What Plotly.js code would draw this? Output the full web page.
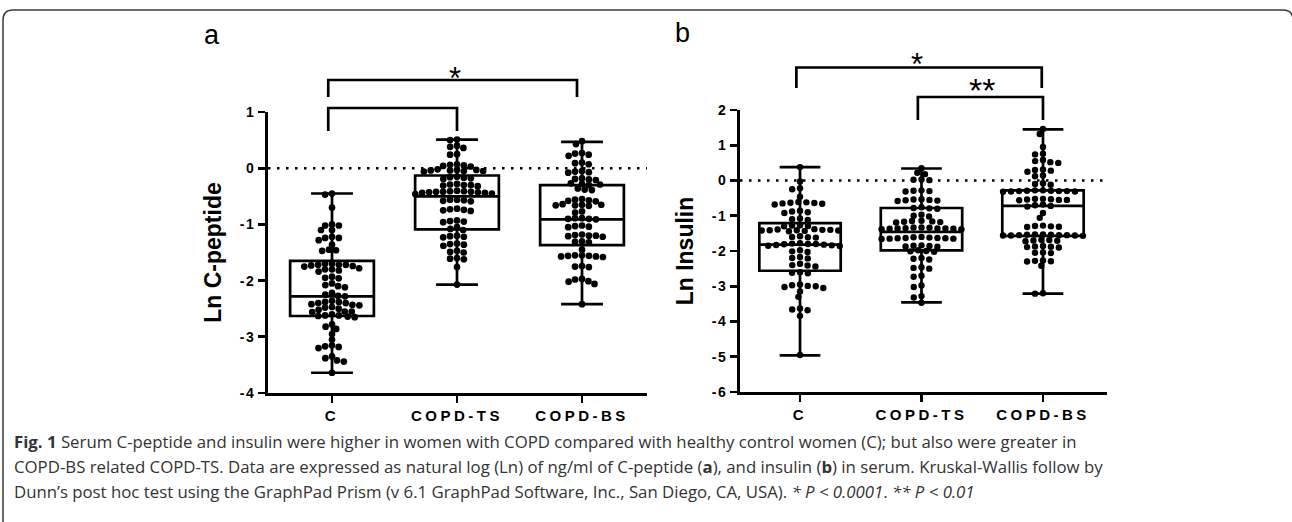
<!DOCTYPE html>
<html>
<head>
<meta charset="utf-8">
<script src="https://cdn.plot.ly/plotly-3.0.1.min.js"></script>
<style>
  html, body { margin: 0; padding: 0; background: #fff; }
  #chart { width: 1292px; height: 522px; }
  .xtick text, .x2tick text { letter-spacing: 3.5px; }
  .ytick text, .y2tick text { letter-spacing: 1.5px; }
</style>
</head>
<body>
<div id="chart"></div>
<script>
// ---------------- data ----------------
const categories = ['C', 'COPD-TS', 'COPD-BS'];

// Panel a: Ln C-peptide, individual values
const cpeptideC = [-0.45, -0.47, -0.70, -1.00, -1.02, -1.02, -1.10, -1.10, -1.22, -1.24, -1.24, -1.28, -1.36,
  -1.45, -1.46, -1.47, -1.70, -1.72, -1.72, -1.74, -1.70, -1.73, -1.75, -1.78, -1.72, -1.80, -1.82, -1.80,
  -1.84, -1.93, -1.96, -1.95, -2.05, -2.10, -2.08, -2.12, -2.22, -2.25, -2.27, -2.28, -2.38, -2.40, -2.40,
  -2.42, -2.38, -2.36, -2.44, -2.47, -2.48, -2.43, -2.52, -2.55, -2.55, -2.50, -2.56, -2.62, -2.63, -2.64,
  -2.62, -2.60, -2.65, -2.78, -2.82, -2.86, -2.95, -3.05, -3.15, -3.18, -3.20, -3.17, -3.35, -3.38, -3.42,
  -3.44, -3.64];
const cpeptideTS = [0.51, 0.50, 0.40, 0.36, 0.38, 0.25, 0.24, 0.07, 0.05, 0.06, 0.03, 0.04, -0.02, -0.04,
  -0.05, -0.03, -0.06, -0.04, -0.05, -0.03, -0.15, -0.17, -0.18, -0.16, -0.19, -0.29, -0.30, -0.31, -0.28,
  -0.32, -0.30, -0.40, -0.41, -0.42, -0.42, -0.43, -0.44, -0.41, -0.43, -0.45, -0.42, -0.44, -0.46, -0.56,
  -0.57, -0.58, -0.56, -0.59, -0.72, -0.74, -0.75, -0.73, -0.76, -0.93, -0.95, -0.96, -0.94, -1.05, -1.08,
  -1.10, -1.20, -1.22, -1.21, -1.23, -1.34, -1.36, -1.38, -1.35, -1.47, -1.49, -1.50, -1.60, -1.62, -1.61,
  -1.76, -2.07];
const cpeptideBS = [0.48, 0.43, 0.26, 0.24, 0.22, 0.27, 0.09, 0.07, 0.10, -0.06, -0.08, -0.07, -0.05, -0.19,
  -0.20, -0.21, -0.18, -0.27, -0.28, -0.30, -0.29, -0.38, -0.39, -0.36, -0.56, -0.58, -0.59, -0.57, -0.55,
  -0.65, -0.66, -0.64, -0.67, -0.66, -0.65, -0.77, -0.79, -0.89, -0.91, -0.90, -0.89, -0.90, -1.03, -1.04,
  -1.05, -1.02, -1.19, -1.20, -1.21, -1.18, -1.22, -1.20, -1.30, -1.32, -1.31, -1.45, -1.55, -1.56, -1.57,
  -1.56, -1.58, -1.57, -1.55, -1.74, -1.75, -1.76, -1.98, -2.02, -2.06, -2.01, -1.97, -2.42];

// Panel a: box statistics (C, COPD-TS, COPD-BS)
const cpeptideQ1 = [-2.63, -1.09, -1.37];
const cpeptideMedian = [-2.28, -0.50, -0.91];
const cpeptideQ3 = [-1.65, -0.13, -0.30];
const cpeptideMin = [-3.64, -2.07, -2.42];
const cpeptideMax = [-0.45, 0.51, 0.47];

// Panel b: Ln Insulin, individual values
const insulinC = [0.38, -0.03, -0.22, -0.25, -0.46, -0.62, -0.64, -0.66, -0.68, -0.65, -0.63, -0.61, -0.86,
  -0.90, -0.92, -0.88, -1.08, -1.10, -1.12, -1.27, -1.28, -1.29, -1.30, -1.38, -1.40, -1.41, -1.42, -1.43,
  -1.41, -1.40, -1.39, -1.42, -1.44, -1.58, -1.60, -1.62, -1.61, -1.78, -1.80, -1.81, -1.83, -1.84, -1.82,
  -1.80, -1.79, -1.85, -1.86, -1.98, -2.01, -2.03, -2.17, -2.20, -2.21, -2.36, -2.40, -2.41, -2.44, -2.60,
  -2.62, -2.63, -2.95, -2.97, -3.00, -3.02, -2.99, -3.05, -3.15, -3.30, -3.63, -3.66, -3.68, -3.84, -4.95];
const insulinTS = [0.35, 0.22, 0.18, 0.03, 0.01, 0.02, -0.29, -0.30, -0.31, -0.28, -0.53, -0.56, -0.55, -0.58,
  -0.57, -0.54, -0.76, -0.80, -0.78, -0.79, -0.97, -1.00, -1.02, -1.14, -1.16, -1.17, -1.18, -1.15, -1.19,
  -1.33, -1.36, -1.37, -1.38, -1.35, -1.36, -1.38, -1.37, -1.36, -1.34, -1.33, -1.60, -1.63, -1.65, -1.64,
  -1.62, -1.64, -1.66, -1.65, -1.63, -1.61, -1.84, -1.86, -1.87, -1.85, -1.88, -1.98, -2.00, -2.02, -2.01,
  -2.20, -2.22, -2.24, -2.46, -2.48, -2.50, -2.70, -2.73, -2.98, -3.02, -3.28, -3.32, -3.47];
const insulinBS = [1.46, 1.32, 0.95, 0.76, 0.74, 0.55, 0.52, 0.50, 0.58, 0.30, 0.28, 0.31, 0.25, 0.14, 0.12,
  -0.08, -0.10, -0.12, -0.28, -0.29, -0.30, -0.31, -0.30, -0.29, -0.32, -0.31, -0.30, -0.28, -0.52, -0.55,
  -0.54, -0.56, -0.53, -0.55, -0.52, -0.68, -0.70, -0.72, -0.74, -0.92, -1.06, -1.28, -1.30, -1.32, -1.29,
  -1.31, -1.53, -1.54, -1.56, -1.55, -1.57, -1.55, -1.56, -1.54, -1.53, -1.55, -1.56, -1.68, -1.70, -1.72,
  -1.69, -1.71, -1.86, -1.88, -1.90, -1.87, -1.89, -2.04, -2.06, -2.05, -2.27, -2.29, -2.28, -2.30, -2.42,
  -3.20, -3.21];

// Panel b: box statistics
const insulinQ1 = [-2.56, -1.98, -1.57];
const insulinMedian = [-1.82, -1.46, -0.72];
const insulinQ3 = [-1.21, -0.78, -0.28];
const insulinMin = [-4.96, -3.46, -3.21];
const insulinMax = [0.38, 0.34, 1.45];

// tick labels
const yTicksA = [-4, -3, -2, -1, 0, 1];
const yTicksB = [-6, -5, -4, -3, -2, -1, 0, 1, 2];

// ---------------- layout geometry (pixels) ----------------
const W = 1292, H = 522;
const A = { x0: 268, x1: 647, yTop: 112, yBot: 393, xr: [-0.512, 2.52], yr: [-4, 1] };
const B = { x0: 740, x1: 1107, yTop: 110, yBot: 392, xr: [-0.494, 2.527], yr: [-6, 2] };
const px = v => v / W;
const py = v => 1 - v / H;

// scatter-dot layout: horizontal spacing d, vertical collision distance dv (pixels)
function beeswarm(values, pxPerY, d, dv) {
  const order = values.map((v, i) => i).sort((a, b) => values[b] - values[a]);
  const placed = [];
  const out = new Array(values.length).fill(0);
  for (const i of order) {
    const y = values[i] * pxPerY;
    const iv = [];
    for (const p of placed) {
      const dy = Math.abs(p.y - y);
      if (dy < dv) { const w = d * Math.sqrt(1 - (dy / dv) * (dy / dv)); iv.push([p.x - w, p.x + w]); }
    }
    const cands = [0];
    iv.forEach(([a, b]) => cands.push(a, b));
    cands.sort((a, b) => Math.abs(a) - Math.abs(b));
    let best = 0;
    for (const c of cands) {
      if (iv.every(([a, b]) => c <= a + 1e-6 || c >= b - 1e-6)) { best = c; break; }
    }
    placed.push({ y, x: best });
    out[i] = best;
  }
  return out;
}

function panelTraces(groups, q1, med, q3, lo, hi, P, xa, ya, msize, dist, distV) {
  const pxPerCat = (P.x1 - P.x0) / (P.xr[1] - P.xr[0]);
  const pxPerY = (P.yBot - P.yTop) / (P.yr[1] - P.yr[0]);
  const traces = [];
  groups.forEach((vals, g) => {
    traces.push({
      type: 'box', xaxis: xa, yaxis: ya, name: categories[g], x: [g],
      q1: [q1[g]], median: [med[g]], q3: [q3[g]], lowerfence: [lo[g]], upperfence: [hi[g]],
      width: 0.67, whiskerwidth: 0.5, boxpoints: false,
      line: { color: '#000', width: 2.7 }, fillcolor: 'rgba(0,0,0,0)', hoverinfo: 'skip', showlegend: false
    });
  });
  groups.forEach((vals, g) => {
    const off = beeswarm(vals, pxPerY, dist, distV);
    traces.push({
      type: 'scatter', mode: 'markers', xaxis: xa, yaxis: ya, name: categories[g],
      x: vals.map((v, i) => g + off[i] / pxPerCat), y: vals,
      marker: { color: '#000', size: msize, line: { width: 0 } },
      cliponaxis: false, showlegend: false
    });
  });
  return traces;
}

const data = [].concat(
  panelTraces([cpeptideC, cpeptideTS, cpeptideBS], cpeptideQ1, cpeptideMedian, cpeptideQ3, cpeptideMin, cpeptideMax, A, 'x', 'y', 6.7, 7.0, 5.6),
  panelTraces([insulinC, insulinTS, insulinBS], insulinQ1, insulinMedian, insulinQ3, insulinMin, insulinMax, B, 'x2', 'y2', 6.4, 8.0, 5.4)
);

const fontFam = '"Liberation Sans", Arial, sans-serif';
function xAxis(P) {
  return {
    domain: [px(P.x0), px(P.x1)], range: P.xr, tickmode: 'array', tickvals: [0, 1, 2], ticktext: categories,
    ticks: 'outside', ticklen: 7, tickwidth: 2.7, tickcolor: '#000', showline: true, linewidth: 2.9, linecolor: '#000',
    showgrid: false, zeroline: false, fixedrange: true, automargin: false,
    tickfont: { family: fontFam, size: 15, color: '#000', weight: 'bold' }
  };
}
function yAxis(P, ticks, title) {
  return {
    domain: [py(P.yBot), py(P.yTop)], range: P.yr, tickmode: 'array', tickvals: ticks, ticktext: ticks.map(String),
    ticks: 'outside', ticklen: 7, tickwidth: 2.7, tickcolor: '#000', showline: true, linewidth: 2.9, linecolor: '#000',
    showgrid: false, zeroline: false, fixedrange: true, automargin: false,
    tickfont: { family: fontFam, size: 14, color: '#000', weight: 'bold' },
    title: { text: title, font: { family: fontFam, size: 23, color: '#000', weight: 'bold' }, standoff: 12 }
  };
}

const lineStyle = { color: '#000', width: 2.7 };
function bracket(xref, xl, xr, yh, yl) {
  return { type: 'path', xref: xref, yref: 'paper', layer: 'above', line: lineStyle,
    path: `M ${xl},${py(yl)} L ${xl},${py(yh)} L ${xr},${py(yh)} L ${xr},${py(yl)}` };
}

const shapes = [
  { type: 'line', xref: 'x domain', yref: 'y', x0: 0, x1: 1, y0: 0, y1: 0, layer: 'below',
    line: { color: '#000', width: 2.5, dash: '2.5px,6.5px' } },
  { type: 'line', xref: 'x2 domain', yref: 'y2', x0: 0, x1: 1, y0: 0, y1: 0, layer: 'below',
    line: { color: '#000', width: 2.5, dash: '2.5px,6.5px' } },
  bracket('x', -0.03, 1.96, 80, 97),
  bracket('x', -0.03, 1.0, 108, 131),
  bracket('x2', -0.03, 1.99, 67.5, 88),
  bracket('x2', 0.97, 2.0, 97, 120),
  // figure frame
  { type: 'path', xref: 'paper', yref: 'paper', layer: 'above', line: { color: '#3a3a3a', width: 1.5 },
    path: `M ${px(3)},${py(530)} L ${px(3)},${py(20)} Q ${px(3)},${py(10)} ${px(13)},${py(10)} L ${px(1283)},${py(10)} Q ${px(1293)},${py(10)} ${px(1293)},${py(20)} L ${px(1293)},${py(530)}` }
];

const capFont = { family: '"Open Sans", "Noto Sans", sans-serif', size: 16.8, color: '#333' };
const annotations = [
  { text: 'a', xref: 'paper', yref: 'paper', x: px(212), y: py(35), xanchor: 'center', yanchor: 'middle', showarrow: false,
    font: { family: fontFam, size: 27, color: '#000' } },
  { text: 'b', xref: 'paper', yref: 'paper', x: px(682), y: py(33), xanchor: 'center', yanchor: 'middle', showarrow: false,
    font: { family: fontFam, size: 27, color: '#000' } },
  { text: '*', xref: 'x', yref: 'paper', x: 0.98, y: py(79), xanchor: 'center', yanchor: 'middle', showarrow: false,
    font: { family: fontFam, size: 31, color: '#000' } },
  { text: '*', xref: 'x2', yref: 'paper', x: 0.96, y: py(65), xanchor: 'center', yanchor: 'middle', showarrow: false,
    font: { family: fontFam, size: 31, color: '#000' } },
  { text: '**', xref: 'x2', yref: 'paper', x: 1.5, y: py(90), xanchor: 'center', yanchor: 'middle', showarrow: false,
    font: { family: fontFam, size: 34, color: '#000' } },
  { text: '<b>Fig. 1</b> Serum C-peptide and insulin were higher in women with COPD compared with healthy control women (C); but also were greater in',
    xref: 'paper', yref: 'paper', x: px(12), y: py(441), xanchor: 'left', yanchor: 'middle', showarrow: false, font: capFont },
  { text: 'COPD-BS related COPD-TS. Data are expressed as natural log (Ln) of ng/ml of C-peptide (<b>a</b>), and insulin (<b>b</b>) in serum. Kruskal-Wallis follow by',
    xref: 'paper', yref: 'paper', x: px(12), y: py(466), xanchor: 'left', yanchor: 'middle', showarrow: false, font: capFont },
  { text: 'Dunn’s post hoc test using the GraphPad Prism (v 6.1 GraphPad Software, Inc., San Diego, CA, USA). <i>* P &lt; 0.0001</i>. <i>** P &lt; 0.01</i>',
    xref: 'paper', yref: 'paper', x: px(12), y: py(491), xanchor: 'left', yanchor: 'middle', showarrow: false, font: capFont }
];

const layout = {
  width: W, height: H, margin: { l: 0, r: 0, t: 0, b: 0, pad: 0 },
  paper_bgcolor: '#fff', plot_bgcolor: 'rgba(0,0,0,0)', showlegend: false,
  xaxis: xAxis(A), yaxis: yAxis(A, yTicksA, 'Ln C-peptide'),
  xaxis2: Object.assign(xAxis(B), { anchor: 'y2' }), yaxis2: Object.assign(yAxis(B, yTicksB, 'Ln Insulin'), { anchor: 'x2' }),
  shapes: shapes, annotations: annotations
};
layout.xaxis.anchor = 'y';
layout.yaxis.anchor = 'x';

Plotly.newPlot('chart', data, layout, { displayModeBar: false, staticPlot: true });
</script>
</body>
</html>
